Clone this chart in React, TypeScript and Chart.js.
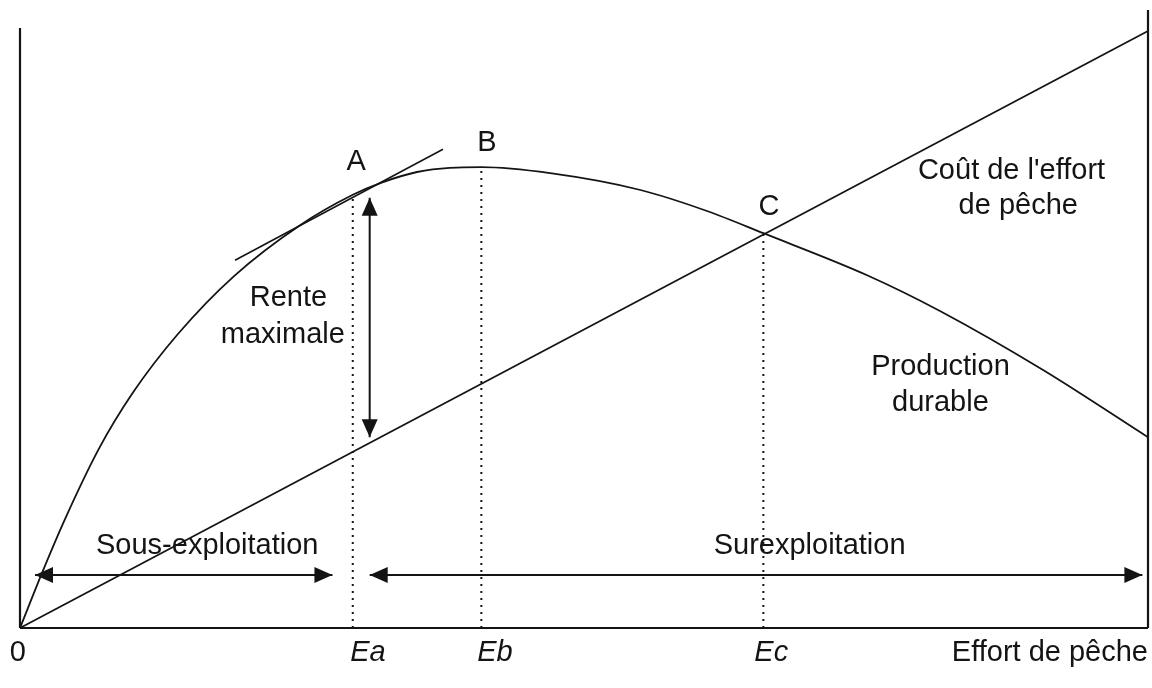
import React, { useEffect, useRef } from "react";
import { Chart, registerables } from "chart.js";

Chart.register(...registerables);

// ---- Data (effort de pêche on x, valeur on y) ----
const effort = [0, 2, 4, 7, 10, 14, 19, 24.8, 29.5, 32, 35.2, 38.1, 40.9, 47.0, 55.0, 60.9, 65.9, 75.1, 81.6, 90.7, 100];
const productionDurable = [0, 9.4, 18.2, 29.9, 39.2, 49.0, 58.7, 67.1, 72.2, 74.2, 76.0, 76.7, 76.8, 75.8, 73.0, 69.5, 65.8, 58.8, 52.8, 43.0, 31.8];
const coutEffortX = [0, 100];
const coutEffortY = [0, 99.5];
const tangentX = [19.06, 37.5];
const tangentY = [61.3, 79.8];

const Ea = 29.5;
const Eb = 40.9;
const Ec = 65.9;
const prodAtEa = 72.2;
const prodAtEb = 76.8;
const prodAtEc = 65.8;

const renteX = 31.0;
const renteY = [71.7, 31.8];
const arrowRowY = 8.83;
const sousExploitation = [1.33, 27.7];
const surExploitation = [31.0, 99.5];

const yAxisTop = 100;
const frameTop = 103;

// text annotations: [text, x, y, align, italic]
const labels: [string, number, number, string, boolean][] = [
  ["A", 29.8, 77.7, "center", false],
  ["B", 41.4, 80.8, "center", false],
  ["C", 66.4, 70.2, "center", false],
  ["Coût de l'effort", 87.9, 76.2, "center", false],
  ["de pêche", 88.5, 70.4, "center", false],
  ["Rente", 23.8, 55.0, "center", false],
  ["maximale", 23.3, 48.8, "center", false],
  ["Production", 81.6, 43.5, "center", false],
  ["durable", 81.6, 37.5, "center", false],
  ["Sous-exploitation", 16.6, 13.6, "center", false],
  ["Surexploitation", 70.0, 13.6, "center", false],
  ["0", -0.2, -4.2, "center", false],
  ["Ea", 30.85, -4.2, "center", true],
  ["Eb", 42.1, -4.2, "center", true],
  ["Ec", 66.6, -4.2, "center", true],
  ["Effort de pêche", 100, -4.2, "right", false],
];

const INK = "#141414";
const FONT = "'Liberation Sans', Arial, Helvetica, sans-serif";

const pts = (xs: number[], ys: number[]) => xs.map((x, i) => ({ x, y: ys[i] }));

const arrowPlugin = {
  id: "arrowHeads",
  afterDatasetsDraw(chart: any) {
    const ctx = chart.ctx;
    chart.data.datasets.forEach((ds: any, i: number) => {
      if (!ds.arrowStart && !ds.arrowEnd) return;
      const meta = chart.getDatasetMeta(i);
      const p = meta.data;
      if (p.length < 2) return;
      const draw = (tip: any, from: any) => {
        const dx = tip.x - from.x;
        const dy = tip.y - from.y;
        const len = Math.hypot(dx, dy) || 1;
        const ux = dx / len, uy = dy / len;
        const L = 18, W = 8;
        const bx = tip.x - ux * L, by = tip.y - uy * L;
        ctx.save();
        ctx.fillStyle = INK;
        ctx.beginPath();
        ctx.moveTo(tip.x, tip.y);
        ctx.lineTo(bx - uy * W, by + ux * W);
        ctx.lineTo(bx + uy * W, by - ux * W);
        ctx.closePath();
        ctx.fill();
        ctx.restore();
      };
      if (ds.arrowStart) draw(p[0], p[1]);
      if (ds.arrowEnd) draw(p[p.length - 1], p[p.length - 2]);
    });
  },
};

const textPlugin = {
  id: "textLabels",
  afterDraw(chart: any) {
    const ctx = chart.ctx;
    const xs = chart.scales.x, ys = chart.scales.y;
    ctx.save();
    ctx.fillStyle = INK;
    ctx.textBaseline = "middle";
    labels.forEach(([t, x, y, align, italic]) => {
      ctx.font = `${italic ? "italic " : ""}29px ${FONT}`;
      ctx.textAlign = align as CanvasTextAlign;
      ctx.fillText(t, xs.getPixelForValue(x), ys.getPixelForValue(y));
    });
    ctx.restore();
  },
};

const lineDs = (data: any[], extra: any = {}) => ({
  data,
  borderColor: INK,
  borderWidth: 1.8,
  pointRadius: 0,
  fill: false,
  clip: false,
  ...extra,
});

export default function App() {
  const ref = useRef<HTMLCanvasElement>(null);
  useEffect(() => {
    if (!ref.current) return;
    const chart = new Chart(ref.current, {
      type: "line",
      data: {
        datasets: [
          lineDs(pts([0, 100], [0, 0]), { borderWidth: 2.2 }),
          lineDs(pts([0, 0], [0, yAxisTop]), { borderWidth: 2.2 }),
          lineDs(pts([100, 100], [0, frameTop]), { borderWidth: 2.2 }),
          lineDs(pts(coutEffortX, coutEffortY)),
          lineDs(pts(effort, productionDurable), { cubicInterpolationMode: "monotone" }),
          lineDs(pts(tangentX, tangentY), { borderWidth: 1.6 }),
          lineDs(pts([Ea, Ea], [0, prodAtEa]), { borderDash: [2, 5], borderWidth: 2 }),
          lineDs(pts([Eb, Eb], [0, prodAtEb]), { borderDash: [2, 5], borderWidth: 2 }),
          lineDs(pts([Ec, Ec], [0, prodAtEc]), { borderDash: [2, 5], borderWidth: 2 }),
          lineDs(pts([renteX, renteX], renteY), { arrowStart: true, arrowEnd: true, borderWidth: 2 }),
          lineDs(pts(sousExploitation, [arrowRowY, arrowRowY]), { arrowStart: true, arrowEnd: true, borderWidth: 2 }),
          lineDs(pts(surExploitation, [arrowRowY, arrowRowY]), { arrowStart: true, arrowEnd: true, borderWidth: 2 }),
        ] as any,
      },
      options: {
        animation: false,
        responsive: true,
        maintainAspectRatio: false,
        events: [],
        layout: { padding: { left: 20, right: 4, top: 10, bottom: 60 } },
        plugins: { legend: { display: false }, tooltip: { enabled: false } },
        scales: {
          x: { type: "linear", min: 0, max: 100, display: false },
          y: { type: "linear", min: 0, max: frameTop, display: false },
        },
      },
      plugins: [arrowPlugin, textPlugin],
    });
    return () => chart.destroy();
  }, []);
  return (
    <div style={{ position: "fixed", left: 0, top: 0, width: 1152, height: 688, background: "#fff" }}>
      <canvas ref={ref} />
    </div>
  );
}
